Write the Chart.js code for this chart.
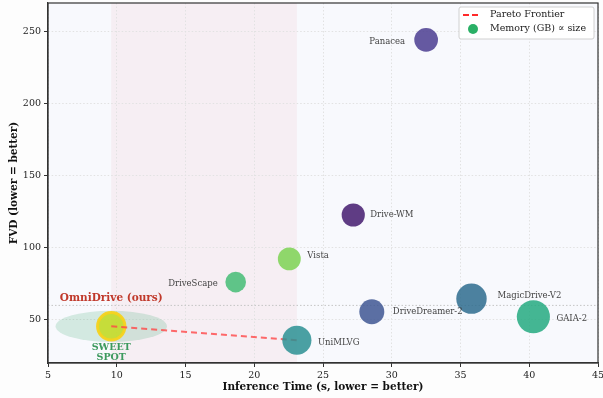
<!DOCTYPE html>
<html>
<head>
<meta charset="utf-8">
<script src="https://cdn.jsdelivr.net/npm/chart.js@4.4.0/dist/chart.umd.min.js"></script>
<style>
  html, body { margin: 0; padding: 0; background: #fdfdfd; }
  canvas { display: block; }
</style>
</head>
<body>
<canvas id="chart" width="603" height="398"></canvas>
<script>
// data
const models = ["OmniDrive (ours)", "UniMLVG", "DriveScape", "Vista", "Drive-WM",
                "DriveDreamer-2", "MagicDrive-V2", "GAIA-2", "Panacea"];
const inferTime = [9.6, 23.1, 18.65, 22.55, 27.2, 28.55, 35.8, 40.3, 32.5];
const fvd = [45.5, 35.8, 76.2, 92.3, 122.8, 55.6, 64.7, 52.1, 244.4];
const memoryGB = [30, 34, 17, 21, 21.5, 25, 37, 44, 22.5];
const paretoIdx = [0, 1];
const xTicks = [5, 10, 15, 20, 25, 30, 35, 40, 45];
const yTicks = [50, 100, 150, 200, 250];
const fvdThreshold = 60;

const colors = ["rgba(196,220,40,0.9)", "rgba(43,144,147,0.85)", "rgba(68,188,116,0.85)",
                "rgba(124,210,82,0.85)", "rgba(68,27,111,0.85)", "rgba(63,87,147,0.85)",
                "rgba(46,108,142,0.85)", "rgba(37,170,128,0.85)", "rgba(75,61,144,0.85)"];
// label placement: dx, dy (px) and text alignment
const labelPos = [null, [21, 3, "left"], [-18, 2, "right"], [18, -3, "left"], [17, 0, "left"],
                  [21, 0, "left"], [26, -3, "left"], [23, 2, "left"], [-21, 2, "right"]];

const radius = m => 2.5 * Math.sqrt(m);
const serif = "'DejaVu Serif', serif";

const omni = [{ x: inferTime[0], y: fvd[0], r: radius(memoryGB[0]) }];
const others = models.slice(1).map((m, i) => ({ x: inferTime[i + 1], y: fvd[i + 1], r: radius(memoryGB[i + 1]) }));
const pareto = paretoIdx.map(i => ({ x: inferTime[i], y: fvd[i] }));

const decor = {
  id: "decor",
  beforeDraw(chart) {
    const { ctx, chartArea: a, scales: { x } } = chart;
    ctx.save();
    ctx.fillStyle = "#fdfdfd";
    ctx.fillRect(0, 0, chart.width, chart.height);
    ctx.fillStyle = "#f8f9fd";
    ctx.fillRect(a.left, a.top, a.right - a.left, a.bottom - a.top);
    const x0 = x.getPixelForValue(inferTime[0]), x1 = x.getPixelForValue(inferTime[1]);
    ctx.fillStyle = "rgba(235,112,128,0.08)";
    ctx.fillRect(x0, a.top, x1 - x0, a.bottom - a.top);
    ctx.restore();
  },
  beforeDatasetsDraw(chart) {
    const { ctx, chartArea: a, scales: { x, y } } = chart;
    ctx.save();
    const ty = y.getPixelForValue(fvdThreshold);
    ctx.strokeStyle = "#c4c4c4";
    ctx.lineWidth = 1;
    ctx.setLineDash([1.5, 2]);
    ctx.beginPath();
    ctx.moveTo(a.left, ty);
    ctx.lineTo(a.right, ty);
    ctx.stroke();
    // sweet spot ellipse around OmniDrive
    const cx = x.getPixelForValue(inferTime[0]), cy = y.getPixelForValue(fvd[0]);
    const rx = Math.abs(x.getPixelForValue(inferTime[0] + 4.05) - cx);
    const ry = Math.abs(y.getPixelForValue(fvd[0] + 10.8) - cy);
    ctx.fillStyle = "rgba(46,160,100,0.18)";
    ctx.beginPath();
    ctx.ellipse(cx, cy, rx, ry, 0, 0, Math.PI * 2);
    ctx.fill();
    ctx.restore();
  },
  afterDatasetsDraw(chart) {
    const { ctx, chartArea: a, scales: { x, y } } = chart;
    ctx.save();
    ctx.font = "8.5px " + serif;
    ctx.fillStyle = "#444";
    ctx.textBaseline = "middle";
    models.forEach((m, i) => {
      if (!labelPos[i]) return;
      const [dx, dy, al] = labelPos[i];
      ctx.textAlign = al;
      ctx.fillText(m, x.getPixelForValue(inferTime[i]) + dx, y.getPixelForValue(fvd[i]) + dy);
    });
    const cx = x.getPixelForValue(inferTime[0]), cy = y.getPixelForValue(fvd[0]);
    ctx.textAlign = "center";
    ctx.font = "bold 10.5px " + serif;
    ctx.fillStyle = "#c0392b";
    ctx.fillText(models[0], cx, cy - 28);
    ctx.font = "bold 9.5px " + serif;
    ctx.fillStyle = "#3d9a5e";
    ctx.fillText("SWEET", cx, cy + 21);
    ctx.fillText("SPOT", cx, cy + 31.5);
    // frame
    ctx.strokeStyle = "#333";
    ctx.lineWidth = 1.2;
    ctx.strokeRect(a.left, a.top, a.right - a.left, a.bottom - a.top);
    ctx.restore();
  },
  afterDraw(chart) {
    const { ctx, chartArea: a } = chart;
    const L = a.right - 139, T = a.top + 4, W = 135, H = 32;
    ctx.save();
    ctx.fillStyle = "rgba(255,255,255,0.9)";
    ctx.strokeStyle = "#d0d0d0";
    ctx.lineWidth = 1;
    ctx.beginPath();
    ctx.roundRect(L, T, W, H, 2);
    ctx.fill();
    ctx.stroke();
    ctx.strokeStyle = "#ff2a2a";
    ctx.lineWidth = 2;
    ctx.setLineDash([6, 3]);
    ctx.beginPath();
    ctx.moveTo(L + 4, T + 8);
    ctx.lineTo(L + 22, T + 8);
    ctx.stroke();
    ctx.fillStyle = "#2ab066";
    ctx.beginPath();
    ctx.arc(L + 14, T + 22, 5, 0, Math.PI * 2);
    ctx.fill();
    ctx.fillStyle = "#222";
    ctx.font = "9.5px " + serif;
    ctx.textBaseline = "middle";
    ctx.fillText("Pareto Frontier", L + 31, T + 8);
    ctx.fillText("Memory (GB) \u221D size", L + 31, T + 22);
    ctx.restore();
  }
};

new Chart(document.getElementById("chart"), {
  data: {
    datasets: [
      { type: "bubble", data: others, backgroundColor: colors.slice(1), borderWidth: 0, order: 1 },
      { type: "line", data: pareto, borderColor: "rgba(255,70,70,0.8)", borderWidth: 2,
        borderDash: [6, 4], pointRadius: 0, fill: false, order: 2 },
      { type: "bubble", data: omni, backgroundColor: colors[0], borderColor: "rgba(245,210,30,0.95)",
        borderWidth: 3, order: 3 }
    ]
  },
  options: {
    responsive: false,
    devicePixelRatio: 1,
    animation: false,
    events: [],
    layout: { autoPadding: false, padding: { top: 3, right: 5, left: 0, bottom: 0 } },
    plugins: { legend: { display: false }, tooltip: { enabled: false } },
    scales: {
      x: {
        type: "linear", min: 5, max: 45,
        afterBuildTicks: s => { s.ticks = xTicks.map(v => ({ value: v })); },
        afterFit: s => { s.height = 35; s.paddingLeft = 0; s.paddingRight = 0; },
        grid: { color: "#e2e2e2", tickColor: "#333", tickLength: 4 },
        border: { color: "#333", width: 1.2, dash: [1.5, 2] },
        ticks: { color: "#222", font: { family: serif, size: 9.5 }, padding: 3, maxRotation: 0 },
        title: { display: true, text: "Inference Time (s, lower = better)", color: "#111",
                 font: { family: serif, size: 10.5, weight: "bold" }, padding: { top: 0, bottom: 4 } }
      },
      y: {
        type: "linear", min: 20, max: 270,
        afterBuildTicks: s => { s.ticks = yTicks.map(v => ({ value: v })); },
        afterFit: s => { s.width = 48; s.paddingTop = 0; s.paddingBottom = 0; },
        grid: { color: "#e2e2e2", tickColor: "#333", tickLength: 4 },
        border: { color: "#333", width: 1.2, dash: [1.5, 2] },
        ticks: { color: "#222", font: { family: serif, size: 9.5 }, padding: 3 },
        title: { display: true, text: "FVD (lower = better)", color: "#111",
                 font: { family: serif, size: 10.5, weight: "bold" }, padding: { top: 8, bottom: 0 } }
      }
    }
  },
  plugins: [decor]
});
</script>
</body>
</html>
